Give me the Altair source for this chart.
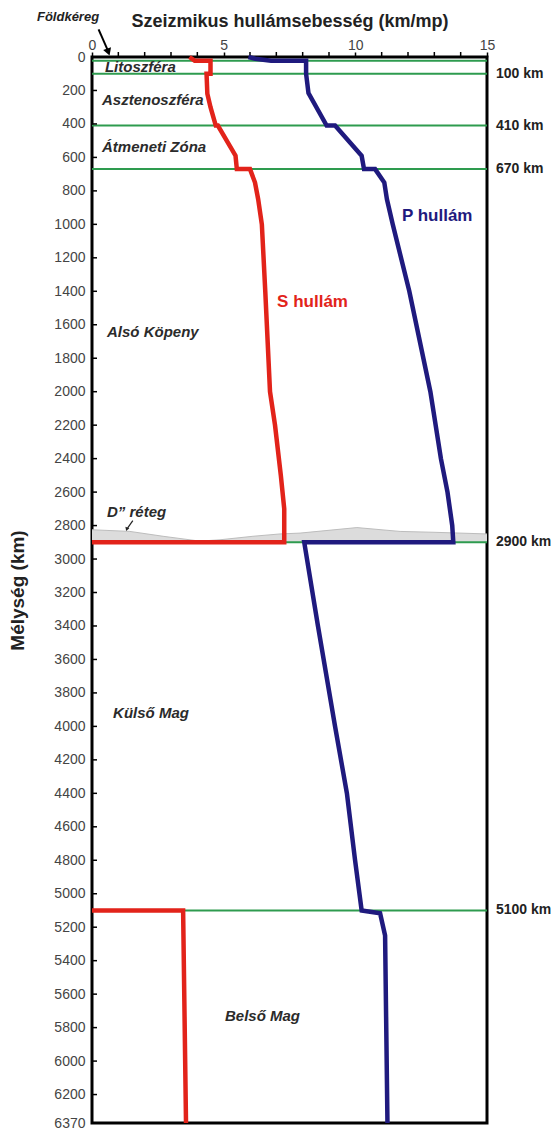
import altair as alt
import pandas as pd

# ---- data ----
s_mantle_depth = [0, 22, 22, 100, 100, 220, 300, 410, 410, 590, 670, 670, 750, 850, 1000, 1400, 2000, 2200, 2500, 2700, 2900, 2900]
s_mantle_vel = [3.7, 3.9, 4.5, 4.5, 4.35, 4.38, 4.5, 4.7, 4.78, 5.45, 5.5, 6.0, 6.19, 6.31, 6.45, 6.58, 6.76, 6.95, 7.17, 7.3, 7.3, 0]
s_core_depth = [5100, 5100, 6370]
s_core_vel = [0, 3.46, 3.57]

p_depth = [0, 10, 22, 22, 100, 216, 410, 410, 590, 670, 670, 750, 850, 1000, 1400, 2000, 2400, 2600, 2800, 2900, 2900,
           3400, 4000, 4400, 4800, 5100, 5117, 5250, 6370]
p_vel = [5.94, 6.2, 6.8, 8.13, 8.13, 8.22, 8.91, 9.23, 10.24, 10.33, 10.75, 11.1, 11.2, 11.42, 12.05, 12.85, 13.25, 13.5, 13.68, 13.72, 8.06,
         8.58, 9.23, 9.68, 9.99, 10.24, 10.94, 11.13, 11.22]

boundary_depths = [22, 100, 410, 670, 2900, 5100]
boundary_labels = ["", "100 km", "410 km", "670 km", "2900 km", "5100 km"]

dpp_vel = [0, 1.44, 2.7, 4.1, 4.86, 6.11, 7.14, 7.9, 10.06, 11.7, 12.95, 15]
dpp_top = [2825, 2835, 2864, 2893, 2885, 2864, 2850, 2845, 2812, 2835, 2840, 2850]

layer_names = ["Litoszféra", "Asztenoszféra", "Átmeneti Zóna", "Alsó Köpeny", "Külső Mag", "Belső Mag", "D\u201d réteg"]
layer_x = [0.49, 0.38, 0.38, 0.57, 0.8, 5.05, 0.57]
layer_y = [58, 257, 539, 1641, 3919, 5733, 2716]

wave_names = ["S hullám", "P hullám"]
wave_x = [7.03, 11.77]
wave_y = [1463, 949]

y_ticks = list(range(0, 6201, 200)) + [6370]
x_labels = [0, 5, 10, 15]
x_minor = [v for v in range(0, 16) if v % 5 != 0]

# ---- tables ----
rows = []
for i, (d, v) in enumerate(zip(s_mantle_depth, s_mantle_vel)):
    rows.append({"depth": d, "vel": v, "wave": "S", "seg": "S1", "i": i})
for i, (d, v) in enumerate(zip(s_core_depth, s_core_vel)):
    rows.append({"depth": d, "vel": v, "wave": "S", "seg": "S2", "i": i})
for i, (d, v) in enumerate(zip(p_depth, p_vel)):
    rows.append({"depth": d, "vel": v, "wave": "P", "seg": "P1", "i": i})
curves = pd.DataFrame(rows)

bounds = pd.DataFrame({"depth": boundary_depths, "label": boundary_labels})
dpp = pd.DataFrame({"vel": dpp_vel, "top": dpp_top, "bottom": [2900] * len(dpp_vel)})
layers = pd.DataFrame({"name": layer_names, "vel": layer_x, "depth": layer_y})
ticks = pd.DataFrame({"depth": y_ticks})
minor = pd.DataFrame({"vel": x_minor})
waves = pd.DataFrame({"name": wave_names, "vel": wave_x, "depth": wave_y, "wave": ["S", "P"]})

xs = alt.Scale(domain=[0, 15], nice=False, zero=False)
ys = alt.Scale(domain=[0, 6370], reverse=True, nice=False, zero=False)
wave_colors = alt.Scale(domain=["S", "P"], range=["#e2231a", "#1f1a7e"])

FONT = "Liberation Sans"

x_axis = alt.Axis(orient="top", values=x_labels,
                  tickSize=5, tickColor="black", tickWidth=1.5, domain=False, grid=False,
                  labelFontSize=14, labelColor="#444444", labelPadding=0, labelFont=FONT,
                  labelOverlap=False, labelFlush=False,
                  title="Szeizmikus hullámsebesség (km/mp)", titleFontSize=18,
                  titleFont=FONT, titleFontWeight="bold", titleColor="#222222", titlePadding=8)
y_axis = alt.Axis(values=y_ticks, format="d", tickSize=0, domain=False, grid=False,
                  labelFontSize=14, labelColor="#444444", labelPadding=7, labelFont=FONT,
                  labelOverlap=False, labelBound=False, labelFlush=False,
                  title="Mélység (km)", titleFontSize=19, titleFont=FONT, titleFontWeight="bold",
                  titleColor="#222222", titlePadding=26)

X = lambda f: alt.X(f, scale=xs, axis=x_axis)
Y = lambda f: alt.Y(f, scale=ys, axis=y_axis)

area = alt.Chart(dpp).mark_area(color="#dcdcdc", opacity=1).encode(
    x=X("vel:Q"), y=Y("top:Q"), y2="bottom:Q",
)
area_edge = alt.Chart(dpp).mark_line(color="#bdbdbd", strokeWidth=1).encode(
    x=X("vel:Q"), y=Y("top:Q")
)

green = alt.Chart(bounds).mark_rule(color="#2e9b4f", strokeWidth=2).encode(
    y=Y("depth:Q"), x=alt.value(0), x2=alt.value(395)
)

yticks = alt.Chart(ticks).mark_rule(color="black", strokeWidth=1.5).encode(
    y=Y("depth:Q"), x=alt.value(0), x2=alt.value(5)
)

xminor = alt.Chart(minor).mark_rule(color="black", strokeWidth=1.5).encode(
    x=X("vel:Q"), y=alt.value(-5), y2=alt.value(0)
)

lines = alt.Chart(curves).mark_line(strokeWidth=4.5, strokeJoin="miter").encode(
    x=X("vel:Q"),
    y=Y("depth:Q"),
    color=alt.Color("wave:N", scale=wave_colors, legend=None),
    detail="seg:N",
    order="i:Q",
)

right_labels = alt.Chart(bounds).mark_text(align="left", baseline="middle", dx=9, fontSize=14,
                                           fontWeight="bold", font=FONT, color="#222222").encode(
    x=alt.datum(15), y=Y("depth:Q"), text="label:N"
)

layer_text = alt.Chart(layers).mark_text(align="left", baseline="middle", fontSize=15,
                                         fontWeight="bold", fontStyle="italic", font=FONT,
                                         color="#2b2b2b").encode(
    x=X("vel:Q"), y=Y("depth:Q"), text="name:N"
)

wave_text = alt.Chart(waves).mark_text(align="left", baseline="middle", fontSize=17,
                                       fontWeight="bold", font=FONT).encode(
    x=X("vel:Q"), y=Y("depth:Q"), text="name:N",
    color=alt.Color("wave:N", scale=wave_colors, legend=None),
)

# Földkéreg annotation
crust_txt = pd.DataFrame({"name": ["Földkéreg"], "vel": [-2.09], "depth": [-239]})
crust_text = alt.Chart(crust_txt).mark_text(align="left", baseline="middle", fontSize=13,
                                            fontWeight="bold", fontStyle="italic", font=FONT,
                                            color="#222222").encode(
    x=X("vel:Q"), y=Y("depth:Q"), text="name:N"
)
arrow_line = pd.DataFrame({"vel": [0.25], "vel2": [0.6], "depth": [-165], "depth2": [-40]})
crust_arrow = alt.Chart(arrow_line).mark_rule(color="black", strokeWidth=2).encode(
    x=X("vel:Q"), x2="vel2:Q", y=Y("depth:Q"), y2="depth2:Q"
)
arrow_head = pd.DataFrame({"vel": [0.62], "depth": [-30]})
crust_head = alt.Chart(arrow_head).mark_point(shape="triangle-down", filled=True, color="black",
                                              size=70, angle=340, opacity=1).encode(
    x=X("vel:Q"), y=Y("depth:Q")
)

# D'' arrow
d_line = pd.DataFrame({"vel": [1.55], "vel2": [1.35], "depth": [2770], "depth2": [2815]})
d_arrow = alt.Chart(d_line).mark_rule(color="#222222", strokeWidth=1.2).encode(
    x=X("vel:Q"), x2="vel2:Q", y=Y("depth:Q"), y2="depth2:Q"
)
d_head_df = pd.DataFrame({"vel": [1.32], "depth": [2822]})
d_head = alt.Chart(d_head_df).mark_point(shape="triangle-down", filled=True, color="#222222",
                                         size=18, angle=20, opacity=1).encode(
    x=X("vel:Q"), y=Y("depth:Q")
)

chart = alt.layer(
    area, area_edge, green, yticks, xminor, lines, right_labels, layer_text, wave_text,
    crust_text, crust_arrow, crust_head, d_arrow, d_head
).properties(
    width=395, height=1066,
    background="white",
    autosize=alt.AutoSizeParams(type="none"),
    padding={"left": 84, "top": 49, "right": 65, "bottom": 6},
).configure_view(stroke="black", strokeWidth=3)

chart.save("out.html", embed_options={"renderer": "svg", "actions": False})
